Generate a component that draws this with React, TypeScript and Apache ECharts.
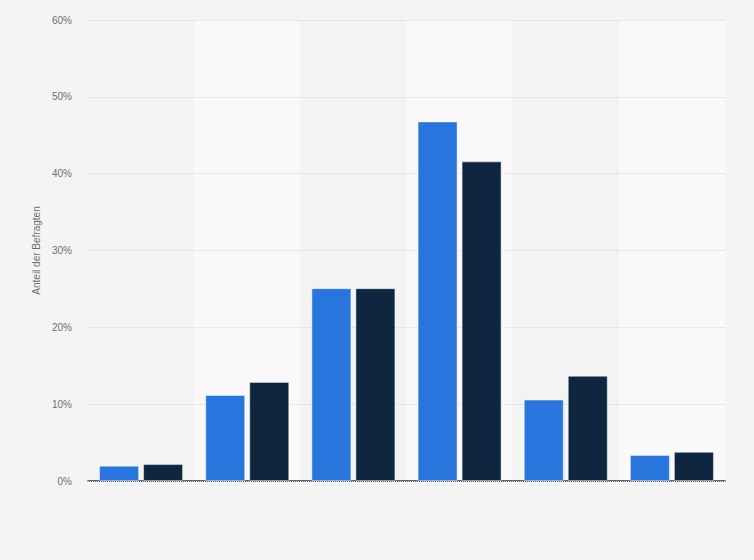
import { useEffect, useRef } from "react";
import * as echarts from "echarts";

const categories = ["1", "2", "3", "4", "5", "6"];
const seriesNames = ["Gruppe A", "Gruppe B"];
const valuesA = [2.0, 11.2, 25.1, 46.8, 10.6, 3.4];
const valuesB = [2.2, 12.9, 25.1, 41.6, 13.7, 3.8];
const yTicks = [0, 10, 20, 30, 40, 50, 60];

const App = () => {
  const chartRef = useRef<HTMLDivElement | null>(null);

  useEffect(() => {
    if (!chartRef.current) {
      return;
    }
    document.body.style.margin = "0";
    const instance = echarts.init(chartRef.current, undefined, {
      renderer: "svg",
    });

    const barBorder = {
      borderColor: "rgba(255,255,255,0.45)",
      borderWidth: 1,
    };

    const option: echarts.EChartsOption = {
      animation: false,
      backgroundColor: "#f4f4f4",
      textStyle: {
        fontFamily: "Liberation Sans, Arial, sans-serif",
      },
      grid: {
        left: 88,
        right: 29,
        top: 20,
        bottom: 79,
      },
      xAxis: {
        type: "category",
        data: categories,
        z: 0,
        axisLine: { lineStyle: { color: "#333333", width: 1.5 } },
        axisTick: { show: false },
        axisLabel: { show: false },
        splitLine: { show: false },
        splitArea: {
          show: true,
          areaStyle: { color: ["#f3f3f3", "#f9f9f9"] },
        },
      },
      yAxis: {
        type: "value",
        z: 1,
        min: yTicks[0],
        max: yTicks[yTicks.length - 1],
        interval: 10,
        name: "Anteil der Befragten",
        nameLocation: "middle",
        nameRotate: 90,
        nameGap: 44,
        nameTextStyle: { color: "#6f6f6f", fontSize: 10 },
        axisLine: { show: false },
        axisTick: { show: false },
        axisLabel: {
          color: "#6f6f6f",
          fontSize: 10,
          margin: 16,
          formatter: (v: number) => `${v}%`,
        },
        splitLine: {
          lineStyle: { color: "#d9d9d9", type: "dotted", width: 1 },
        },
      },
      series: [
        {
          name: seriesNames[0],
          type: "bar",
          z: 3,
          data: valuesA,
          barWidth: 40,
          barGap: "10%",
          itemStyle: { color: "#2876dd", ...barBorder },
        },
        {
          name: seriesNames[1],
          type: "bar",
          z: 3,
          data: valuesB,
          barWidth: 40,
          barGap: "10%",
          itemStyle: { color: "#0f2640", ...barBorder },
        },
      ],
    };

    instance.setOption(option, true);

    return () => {
      instance.dispose();
    };
  }, []);

  return <div ref={chartRef} style={{ width: 754, height: 560 }} />;
};

export default App;
